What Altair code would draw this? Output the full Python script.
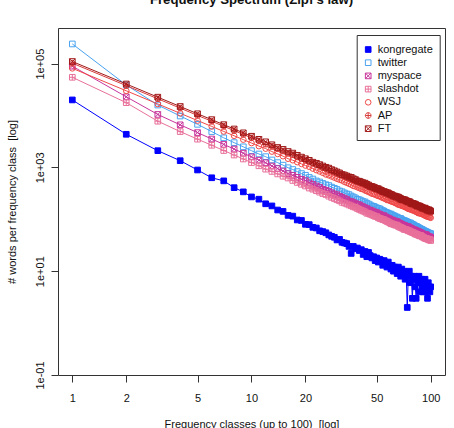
import altair as alt
import pandas as pd

# Frequency classes 1..100 (x) and number of words per class (y), one list per corpus
freq_class = list(range(1, 101))

kongregate = [19950, 4345, 2099, 1346, 891, 631, 550, 407, 338, 270,
              244, 199, 181, 151, 142, 119, 115, 97, 95, 80,
              79, 70, 68, 60, 58, 55, 50, 47, 45, 40,
              41, 36, 35, 34, 30, 22, 30, 27, 28, 25,
              26, 21, 24, 19, 23, 20, 18, 19, 16, 18,
              15, 17, 16, 13, 16, 14, 12, 15, 13, 11,
              13, 10, 12, 11, 9, 12, 10, 8, 11, 9,
              10, 7, 9, 2, 8, 10, 6, 8, 3, 7,
              8, 5, 3, 7, 6, 8, 4, 6, 7, 5,
              4, 6, 7, 4, 5, 3, 6, 5, 4, 5]

twitter = [239000, 38700, 15900, 9770, 6761, 4898, 3715, 2999, 2489, 2099,
           1812, 1610, 1390, 1235, 1105, 985, 910, 830, 760, 705,
           640, 597, 548, 524, 491, 464, 447, 417, 396, 376,
           352, 340, 322, 308, 299, 281, 269, 258, 243, 238,
           228, 219, 216, 204, 197, 189, 180, 178, 172, 166,
           162, 159, 152, 147, 143, 136, 134, 131, 127, 126,
           121, 118, 115, 111, 110, 106, 104, 104, 99, 96,
           95, 93, 91, 89, 87, 85, 85, 82, 80, 78,
           77, 72, 73, 72, 70, 68, 67, 65, 64, 63,
           61, 60, 59, 58, 57, 55, 55, 54, 53, 53]

myspace = [89100, 22910, 10470, 6607, 4677, 3524, 2773, 2254, 1879, 1596,
           1377, 1228, 1062, 948, 851, 758, 702, 643, 590, 556,
           506, 471, 439, 411, 378, 363, 343, 324, 307, 297,
           277, 263, 251, 240, 225, 219, 210, 201, 194, 190,
           179, 173, 167, 161, 152, 150, 145, 140, 136, 134,
           128, 124, 121, 117, 117, 111, 107, 105, 102, 97,
           97, 94, 92, 90, 90, 86, 84, 82, 80, 76,
           77, 75, 73, 72, 72, 69, 68, 66, 65, 62,
           63, 61, 60, 59, 59, 57, 56, 55, 54, 52,
           52, 51, 50, 51, 49, 48, 46, 46, 46, 45]

slashdot = [54450, 17660, 7762, 4898, 3499, 2667, 2113, 1730, 1452, 1239,
            1074, 925, 836, 748, 675, 624, 560, 513, 472, 438,
            400, 380, 355, 333, 313, 301, 279, 264, 251, 238,
            227, 212, 206, 198, 189, 182, 174, 170, 161, 155,
            149, 144, 139, 131, 130, 125, 122, 118, 114, 113,
            107, 104, 102, 99, 98, 94, 91, 89, 86, 82,
            82, 80, 78, 77, 77, 73, 71, 70, 68, 67,
            64, 64, 63, 62, 60, 60, 58, 57, 56, 55,
            54, 52, 52, 51, 50, 49, 48, 49, 47, 46,
            45, 44, 43, 43, 42, 42, 41, 40, 41, 39]

wsj = [81100, 29930, 16680, 11020, 7985, 6155, 4923, 4066, 3429, 2946,
       2572, 2301, 2019, 1817, 1645, 1470, 1375, 1265, 1168, 1087,
       1030, 949, 888, 836, 787, 733, 705, 669, 637, 605,
       579, 561, 528, 506, 485, 466, 441, 431, 415, 400,
       386, 380, 361, 349, 338, 327, 312, 308, 299, 290,
       281, 279, 267, 260, 253, 246, 236, 235, 229, 223,
       218, 216, 208, 204, 199, 191, 191, 186, 183, 179,
       178, 172, 169, 165, 159, 158, 156, 153, 150, 148,
       148, 142, 140, 138, 132, 133, 130, 129, 127, 127,
       123, 121, 119, 115, 115, 113, 112, 112, 109, 107]

ap = [101900, 37620, 20960, 13850, 10030, 7736, 6187, 5110, 4310, 3702,
      3232, 2799, 2538, 2283, 2067, 1881, 1760, 1590, 1468, 1366,
      1272, 1214, 1116, 1051, 990, 935, 871, 841, 801, 761,
      727, 707, 663, 636, 610, 575, 563, 541, 522, 503,
      493, 470, 454, 439, 425, 419, 399, 387, 376, 365,
      359, 345, 336, 327, 312, 310, 301, 295, 287, 281,
      279, 268, 261, 256, 250, 239, 240, 233, 230, 229,
      220, 216, 212, 210, 204, 199, 196, 190, 189, 186,
      182, 182, 176, 173, 170, 164, 164, 162, 159, 159,
      154, 152, 150, 144, 145, 142, 140, 141, 137, 135]

ft = [109600, 40450, 22540, 14890, 10790, 8318, 6653, 5495, 4634, 3981,
      3475, 3110, 2729, 2418, 2223, 2023, 1887, 1710, 1578, 1469,
      1368, 1259, 1200, 1130, 1064, 1005, 968, 904, 861, 818,
      782, 731, 713, 684, 656, 642, 605, 582, 549, 541,
      521, 505, 497, 472, 457, 433, 429, 416, 404, 392,
      388, 371, 361, 345, 342, 333, 324, 323, 309, 302,
      295, 282, 281, 275, 269, 268, 258, 251, 240, 242,
      237, 237, 228, 223, 219, 219, 211, 202, 203, 200,
      196, 196, 189, 181, 183, 180, 179, 174, 171, 165,
      166, 163, 164, 158, 156, 150, 151, 152, 147, 143]

series_names = ["kongregate", "twitter", "myspace", "slashdot", "WSJ", "AP", "FT"]
series_values = [kongregate, twitter, myspace, slashdot, wsj, ap, ft]
series_colors = ["#0000FF", "#4AA3F0", "#C8359B", "#E8709A", "#F04848", "#D93A3A", "#A01818"]
series_fills = ["#0000FF", "transparent", "transparent", "transparent",
                "transparent", "transparent", "transparent"]

# plotting symbols: filled square, open square, boxed cross, boxed plus,
# open circle, circled plus, boxed cross
BOX = "M-1,-1L1,-1L1,1L-1,1Z"
series_shapes = [
    "square",
    "square",
    BOX + "M-1,-1L1,1M-1,1L1,-1",
    BOX + "M0,-1L0,1M-1,0L1,0",
    "circle",
    "M-1,0A1,1,0,1,1,1,0A1,1,0,1,1,-1,0ZM0,-1L0,1M-1,0L1,0",
    BOX + "M-1,-1L1,1M-1,1L1,-1",
]

x_ticks = [1, 2, 5, 10, 20, 50, 100]
y_ticks = [0.1, 10, 1000, 100000]
y_tick_labels = ["1e-01", "1e+01", "1e+03", "1e+05"]

rows = []
for name, vals, col in zip(series_names, series_values, series_colors):
    for f, v in zip(freq_class, vals):
        rows.append({"freq": f, "count": v, "series": name, "line_color": col})
df = pd.DataFrame(rows)

FONT = "Liberation Sans"
W, H = 387, 347

y_label_expr = "[{}][indexof([{}], datum.value)]".format(
    ",".join("'{}'".format(s) for s in y_tick_labels),
    ",".join(str(v) for v in y_ticks),
)

x_enc = alt.X(
    "freq:Q",
    scale=alt.Scale(type="log", domain=[0.832, 120.2], nice=False, zero=False),
    axis=alt.Axis(
        values=x_ticks, format="d", grid=False, domain=False,
        tickSize=7, tickColor="#333", tickWidth=1,
        labelFont=FONT, labelFontSize=11, labelColor="#111", labelPadding=10,
        labelFlush=False, labelOverlap=False,
        title="Frequency classes (up to 100)\u00a0 [log]",
        titleFont=FONT, titleFontSize=11, titleFontWeight="normal", titleColor="#111",
        titleX=W / 2, titleY=49, titleAlign="center", titleBaseline="middle",
    ),
)
y_enc = alt.Y(
    "count:Q",
    scale=alt.Scale(type="log", domain=[0.1, 485000], nice=False, zero=False),
    axis=alt.Axis(
        values=y_ticks, labelExpr=y_label_expr, grid=False, domain=False,
        tickSize=7, tickColor="#333", tickWidth=1,
        labelFont=FONT, labelFontSize=11, labelColor="#111", labelPadding=11,
        labelAngle=270, labelAlign="center", labelBaseline="middle",
        labelFlush=False, labelOverlap=False,
        title="# words per frequency class\u00a0 [log]",
        titleFont=FONT, titleFontSize=11, titleFontWeight="normal", titleColor="#111",
        titleX=-46, titleY=H / 2, titleAngle=270, titleAlign="center",
        titleBaseline="middle",
    ),
)

base = alt.Chart(df)

lines = base.mark_line(strokeWidth=1).encode(
    x=x_enc,
    y=y_enc,
    stroke=alt.Stroke("line_color:N", scale=None),
    detail="series:N",
    order="freq:Q",
)

points = base.mark_point(size=32, strokeWidth=1, opacity=1, filled=True).encode(
    x=x_enc,
    y=y_enc,
    stroke=alt.Stroke("series:N", title=" ",
                      scale=alt.Scale(domain=series_names, range=series_colors)),
    fill=alt.Fill("series:N", title=" ",
                  scale=alt.Scale(domain=series_names, range=series_fills)),
    shape=alt.Shape("series:N", title=" ",
                    scale=alt.Scale(domain=series_names, range=series_shapes)),
)

chart = (
    alt.layer(lines, points)
    .properties(
        width=W,
        height=H,
        padding={"left": 58, "top": 28, "right": 9, "bottom": 53},
        autosize=alt.AutoSizeParams(type="none"),
        title=alt.TitleParams(
            text="Frequency Spectrum (Zipf's law)",
            font=FONT, fontSize=13.2, fontWeight="bold", color="#111",
            anchor="middle", frame="group", baseline="alphabetic", offset=11,
        ),
    )
    .configure_view(stroke="#333", strokeWidth=1)
    .configure_legend(
        orient="none", legendX=298.7, legendY=7,
        padding=6, rowPadding=1.2,
        titleFontSize=1, titlePadding=2,
        strokeColor="#333", fillColor="white",
        symbolSize=32, symbolStrokeWidth=1,
        labelFont=FONT, labelFontSize=11, labelColor="#111", labelOffset=4,
    )
)

chart.save("out.html", embed_options={"renderer": "svg", "actions": False})
